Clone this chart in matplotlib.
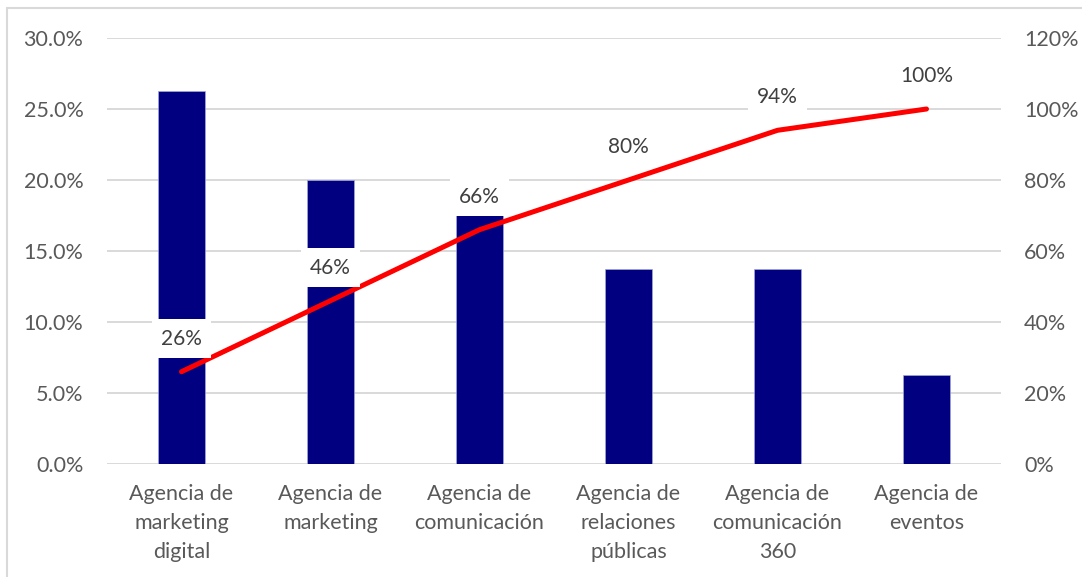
import matplotlib
matplotlib.use("Agg")
import matplotlib.pyplot as plt
from matplotlib.ticker import FuncFormatter, MultipleLocator
from matplotlib.patches import Rectangle

categories = [
    "Agencia de\nmarketing\ndigital",
    "Agencia de\nmarketing",
    "Agencia de\ncomunicación",
    "Agencia de\nrelaciones\npúblicas",
    "Agencia de\ncomunicación\n360",
    "Agencia de\neventos",
]
share = [0.263, 0.200, 0.176, 0.137, 0.137, 0.063]
cumulative = [0.26, 0.46, 0.66, 0.80, 0.94, 1.00]

plt.rcParams["font.family"] = ["Lato", "DejaVu Sans"]
TXT = "#595959"
GRID = "#d9d9d9"

fig = plt.figure(figsize=(10.82, 5.77), dpi=100)
ax = fig.add_axes([107 / 1082, 1 - 464 / 577, (1001 - 107) / 1082, (464 - 38) / 577])
ax2 = ax.twinx()

x = list(range(len(categories)))
ax.bar(x, share, width=0.315, color="#000080", edgecolor="#a4a8d6", linewidth=0.5, zorder=2)
ax.set_xlim(-0.5, len(categories) - 0.5)
ax.set_ylim(0, 0.30)
ax.yaxis.set_major_locator(MultipleLocator(0.05))
ax.yaxis.set_major_formatter(FuncFormatter(lambda v, p: f"{v * 100:.1f}%"))
ax.grid(axis="y", color=GRID, linewidth=1.4, zorder=0)
ax.set_axisbelow(True)

ax2.plot(x, cumulative, color="#ff0000", linewidth=3.6, solid_capstyle="round",
         solid_joinstyle="round", zorder=3)
ax2.set_ylim(0, 1.2)
ax2.yaxis.set_major_locator(MultipleLocator(0.2))
ax2.yaxis.set_major_formatter(FuncFormatter(lambda v, p: f"{v * 100:.0f}%"))

for xi, v in zip(x, cumulative):
    ax2.annotate(f"{v * 100:.0f}%", (xi, v), xytext=(0, 33), textcoords="offset pixels",
                 ha="center", va="center", fontsize=15, color="#404040", zorder=5,
                 bbox=dict(boxstyle="square,pad=0.45", fc="white", ec="none"))

ax.set_xticks(x)
ax.set_xticklabels(categories, fontsize=15.5, color=TXT, linespacing=1.56)
for a in (ax, ax2):
    for s in a.spines.values():
        s.set_visible(False)
    a.tick_params(length=0, labelsize=15.5, labelcolor=TXT)
ax.tick_params(axis="y", pad=17)
ax2.tick_params(axis="y", pad=16.5)
ax.tick_params(axis="x", pad=14.5)

fig.patches.append(Rectangle((7 / 1082, -0.05), 1.1, 1.05 - 8 / 577,
                             transform=fig.transFigure, fill=False,
                             edgecolor=GRID, linewidth=1.5, zorder=0))

fig.savefig("out.png", dpi=100)
